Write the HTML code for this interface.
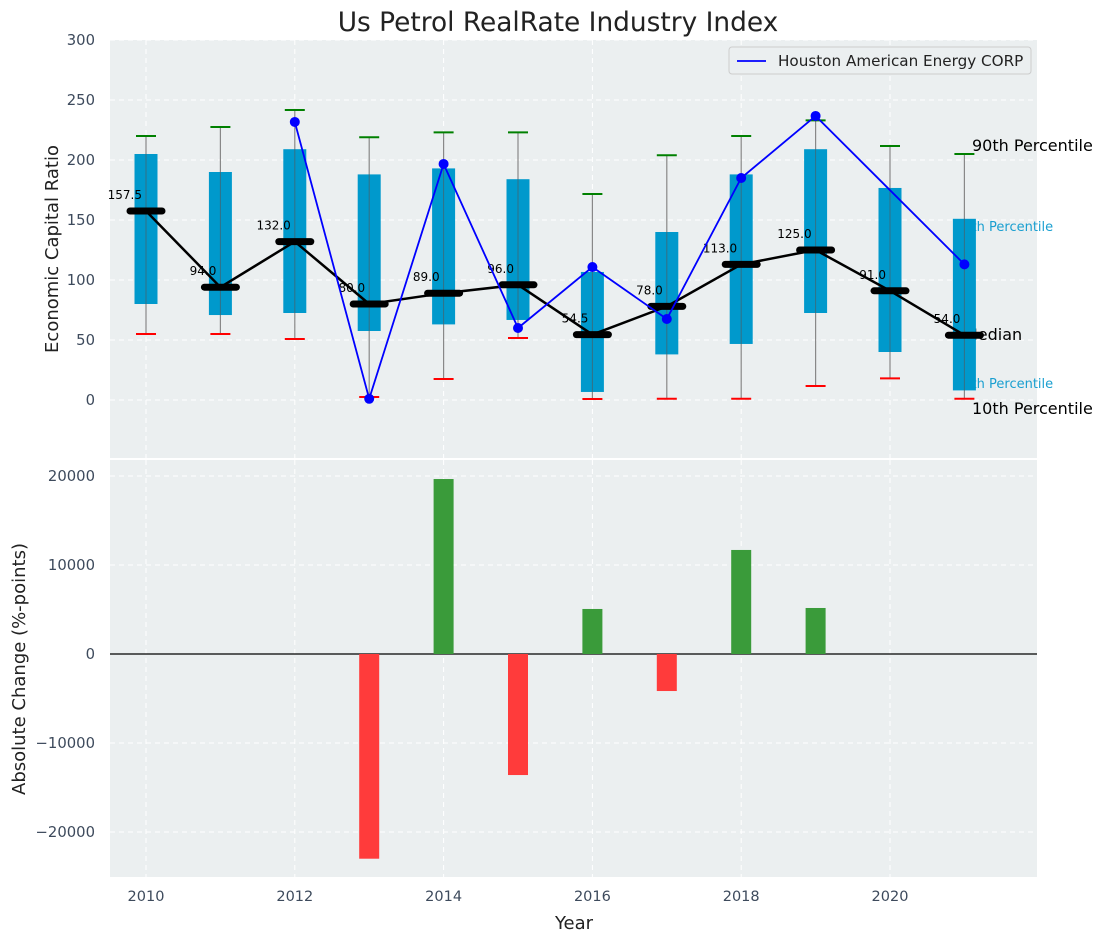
<!DOCTYPE html>
<html><head><meta charset="utf-8"><style>
body{margin:0;background:#fff;}
svg{display:block;font-family:"DejaVu Sans","Liberation Sans",sans-serif;}
</style></head><body>
<svg id="chart" width="1107" height="942" xmlns="http://www.w3.org/2000/svg"></svg>
<script>
const years=[2010,2011,2012,2013,2014,2015,2016,2017,2018,2019,2020,2021];
const p90=[220,227.5,241.7,219,223,223,171.7,204,220,233,211.7,205];
const q75=[205,190,209,188,193,184,106.7,140,188,209,176.7,151];
const medians=[157.5,94,132,80,89,96,54.5,78,113,125,91,54];
const q25=[80,70.8,72.5,57.5,63,66.7,6.7,38,46.7,72.5,40,8];
const p10=[55,55,50.8,2.5,17.5,51.7,0.8,1,1,11.7,18,1];
const houston=[null,null,231.7,1,196.7,60,110.8,67.5,185,236.7,null,113];
const changeYears=[2013,2014,2015,2016,2017,2018,2019];
const changes=[-23000,19660,-13600,5060,-4160,11690,5170];
const topTicks=[0,50,100,150,200,250,300];
const botTicks=[-20000,-10000,0,10000,20000];
const xTicks=[2010,2012,2014,2016,2018,2020];

const svg=document.getElementById('chart');
const NS='http://www.w3.org/2000/svg';
function mk(tag,attrs,parent,text){const e=document.createElementNS(NS,tag);for(const k in attrs)e.setAttribute(k,attrs[k]);if(text!==undefined)e.textContent=text;(parent||svg).appendChild(e);return e;}
const L=110,R=1037;
const x=v=>146+(v-2010)*74.4;
const yT=v=>400-v*1.2;
const yB=v=>654-v*178/20000;

let t=mk('text',{x:558,y:31,'text-anchor':'middle','font-size':26.4,fill:'#222'},svg,'Us Petrol RealRate Industry Index');


let bg=mk('rect',{x:L,y:40,width:R-L,height:418,fill:'#ebeff0'});

let bg2=mk('rect',{x:L,y:460,width:R-L,height:417,fill:'#ebeff0'});


xTicks.forEach(v=>{
  mk('line',{x1:x(v),x2:x(v),y1:40,y2:458,stroke:'#fff','stroke-dasharray':'5,4','stroke-width':1});
  mk('line',{x1:x(v),x2:x(v),y1:460,y2:877,stroke:'#fff','stroke-dasharray':'5,4','stroke-width':1});
  let tl=mk('text',{x:x(v),y:901,'text-anchor':'middle','font-size':14.5,fill:'#3d4a5c'},svg,v);
  
});
topTicks.forEach(v=>{
  mk('line',{x1:L,x2:R,y1:yT(v),y2:yT(v),stroke:'#fff','stroke-dasharray':'5,4'});
  let tl=mk('text',{x:95,y:yT(v)+5,'text-anchor':'end','font-size':14.8,fill:'#3d4a5c'},svg,v);
  
});
botTicks.forEach(v=>{
  mk('line',{x1:L,x2:R,y1:yB(v),y2:yB(v),stroke:'#fff','stroke-dasharray':'5,4'});
  let tl=mk('text',{x:95,y:yB(v)+5,'text-anchor':'end','font-size':14.8,fill:'#3d4a5c'},svg,v<0?'\u2212'+(-v):v);
  
});

const side=[['90th Percentile',972,151,16,'#000'],['75th Percentile',955,231,13,'#1a9fd0'],['Median',964,340,16,'#000'],['25th Percentile',955,388,13,'#1a9fd0'],['10th Percentile',972,414,16,'#000']];
side.forEach(s=>{let e=mk('text',{x:s[1],y:s[2],'font-size':s[3],fill:s[4]},svg,s[0]);
  });

years.forEach((yr,i)=>{
  const cx=x(yr);
  let w=mk('line',{x1:cx,x2:cx,y1:yT(p10[i]),y2:yT(p90[i]),stroke:'#888','stroke-width':1.2});
  
  let b=mk('rect',{x:cx-11.5,y:yT(q75[i]),width:23,height:yT(q25[i])-yT(q75[i]),fill:'#0099cc'});
  
  mk('line',{x1:cx,x2:cx,y1:yT(q75[i]),y2:yT(q25[i]),stroke:'#555','stroke-width':1,opacity:0.6});
  let g=mk('line',{x1:cx-10,x2:cx+10,y1:yT(p90[i]),y2:yT(p90[i]),stroke:'#008000','stroke-width':2});
  
  let r=mk('line',{x1:cx-10,x2:cx+10,y1:yT(p10[i]),y2:yT(p10[i]),stroke:'#ff0000','stroke-width':2});
  
});
let mp=medians.map((m,i)=>x(years[i])+','+yT(m)).join(' ');
let ml=mk('polyline',{points:mp,fill:'none',stroke:'#000','stroke-width':2.5});

years.forEach((yr,i)=>{
  let m=mk('line',{x1:x(yr)-16,x2:x(yr)+16,y1:yT(medians[i]),y2:yT(medians[i]),stroke:'#000','stroke-width':7,'stroke-linecap':'round'});
  
  let l=mk('text',{x:x(yr)-4,y:yT(medians[i])-12,'text-anchor':'end','font-size':12,fill:'#000'},svg,medians[i].toFixed(1));
  
});
let hp=[];houston.forEach((h,i)=>{if(h!==null)hp.push(x(years[i])+','+yT(h));});
let hl=mk('polyline',{points:hp.join(' '),fill:'none',stroke:'#0000ff','stroke-width':1.8});

houston.forEach((h,i)=>{if(h===null)return;
  let c=mk('circle',{cx:x(years[i]),cy:yT(h),r:5,fill:'#0000ff'});
  });

let lg=mk('g',{});
mk('rect',{x:729,y:47,width:302,height:27,rx:3,fill:'#ebeff0',stroke:'#ccc'},lg);
mk('line',{x1:737,x2:766,y1:61,y2:61,stroke:'#0000ff','stroke-width':1.8},lg);
let lt=mk('text',{x:778,y:66,'font-size':15.2,fill:'#222'},lg,'Houston American Energy CORP');


mk('line',{x1:L,x2:R,y1:yB(0),y2:yB(0),stroke:'#000','stroke-width':1.2});
changeYears.forEach((yr,i)=>{
  const v=changes[i];
  let b=mk('rect',{x:x(yr)-10,y:Math.min(yB(v),yB(0)),width:20,height:Math.abs(yB(v)-yB(0)),fill:v>=0?'#3a9b3a':'#ff3b3b'});
  
});

let a1=mk('text',{x:0,y:0,transform:'translate(58,249) rotate(-90)','text-anchor':'middle','font-size':18,fill:'#222'},svg,'Economic Capital Ratio');

let a2=mk('text',{x:0,y:0,transform:'translate(25,669) rotate(-90)','text-anchor':'middle','font-size':18,fill:'#222'},svg,'Absolute Change (%-points)');

let a3=mk('text',{x:574,y:929,'text-anchor':'middle','font-size':18,fill:'#222'},svg,'Year');

</script>
</body></html>
